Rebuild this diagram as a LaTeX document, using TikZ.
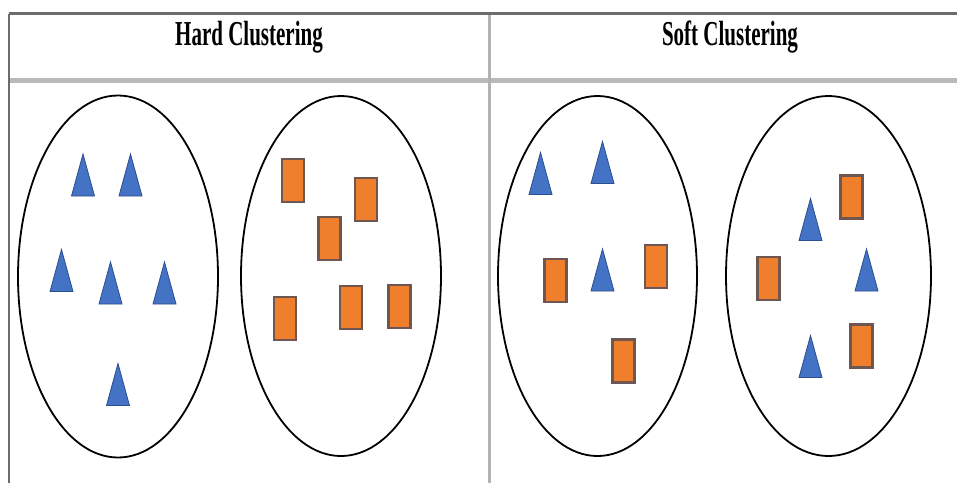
\documentclass[tikz,border=0pt]{standalone}
\usepackage{fontspec}
\setmainfont{Liberation Serif}
\begin{document}
\begin{tikzpicture}[x=1pt,y=-1pt,
  rule/.style={draw=gray!85!black, line width=3pt},
  sepline/.style={draw=gray!55, line width=5pt},
  midline/.style={draw=gray!60, line width=2.2pt},
  cluster/.style={draw=black, line width=1.8pt},
  head/.style={font=\bfseries\fontsize{35}{40}\selectfont, inner sep=0pt, xscale=0.6},
  tri/.pic={\filldraw[fill=triblue, draw=tridark, line width=0.8pt, line join=miter]
      (-11.5,21) -- (0,-21) -- (11.5,21) -- cycle;},
  sq/.pic={\filldraw[fill=sqorange, draw=sqedge, line width=2.4pt]
      (-11,-21.5) rectangle (11,21.5);}
]
\definecolor{triblue}{HTML}{4472C4}
\definecolor{tridark}{HTML}{2B4F8F}
\definecolor{sqorange}{HTML}{EF7F2C}
\definecolor{sqedge}{HTML}{6E5750}
\useasboundingbox (0,0) rectangle (957,483);
\fill[white] (0,0) rectangle (957,483);
% table
\coordinate (tl) at (9,13.5);
\coordinate (tr) at (957,13.5);
\coordinate (bl) at (9,483);
\coordinate (sl) at (9,80);
\coordinate (sr) at (957,80);
\coordinate (mt) at (489.5,13.5);
\coordinate (mb) at (489.5,483);
\draw[sepline] (sl) -- (sr);
\draw[midline] (mt) -- (mb);
\draw[rule] (tl) -- (tr);
\draw[draw=gray!85!black, line width=2pt] (tl) -- (bl);
% headings
\node[head] (hard) at (249,37) {Hard Clustering};
\node[head] (soft) at (730,37) {Soft Clustering};
% clusters
\draw[cluster] (118,276.5) ellipse [x radius=100, y radius=181];
\draw[cluster] (341,276) ellipse [x radius=100, y radius=180];
\draw[cluster] (597.5,276) ellipse [x radius=99.5, y radius=180];
\draw[cluster] (828.5,276) ellipse [x radius=102.5, y radius=180];
% hard: triangles
\pic (h1) at (83,175) {tri};
\pic (h2) at (130.5,175) {tri};
\pic (h3) at (61.5,270.5) {tri};
\pic (h4) at (110.5,283) {tri};
\pic (h5) at (164.5,283) {tri};
\pic (h6) at (118,384.5) {tri};
% hard: squares
\pic (h7) at (293,180.5) {sq};
\pic (h8) at (366,199.5) {sq};
\pic (h9) at (329.5,238.5) {sq};
\pic (h10) at (285,318.5) {sq};
\pic (h11) at (351,307.5) {sq};
\pic (h12) at (399.5,306.5) {sq};
% soft left
\pic (s1) at (540.5,173.5) {tri};
\pic (s2) at (602.5,162.5) {tri};
\pic (s3) at (602.5,270) {tri};
\pic (s4) at (555.5,280.5) {sq};
\pic (s5) at (656,266.5) {sq};
\pic (s6) at (623.5,361) {sq};
% soft right
\pic (s7) at (810.5,219.5) {tri};
\pic (s8) at (866.5,270) {tri};
\pic (s9) at (810.5,356.5) {tri};
\pic (s10) at (851.5,197) {sq};
\pic (s11) at (768.5,278.5) {sq};
\pic (s12) at (861.5,346) {sq};
\end{tikzpicture}
\end{document}
